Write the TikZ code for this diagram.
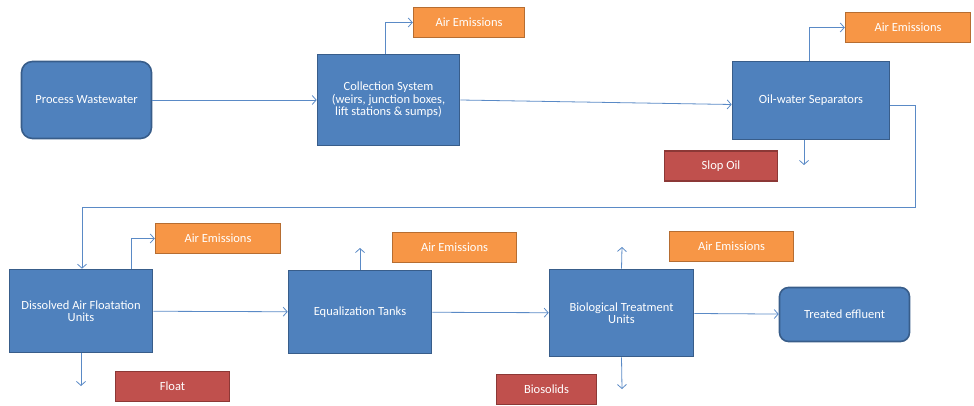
\documentclass[tikz,border=0pt]{standalone}
\usepackage{xcolor}
\usepackage{fontspec}
\setmainfont{Carlito}
\usepackage{tikz}
\usetikzlibrary{arrows.meta,positioning,calc}
\definecolor{UnitBlue}{HTML}{4F81BD}
\definecolor{UnitEdge}{HTML}{385D8A}
\definecolor{EmisFill}{HTML}{F79646}
\definecolor{EmisEdge}{HTML}{B66D31}
\definecolor{ResFill}{HTML}{C0504D}
\definecolor{ResEdge}{HTML}{8C3836}
\definecolor{FlowLine}{HTML}{5A8AC6}

\begin{document}
\begin{tikzpicture}[x=1pt,y=-1pt,>={Straight Barb[length=4pt,width=9pt]},
  font=\fontsize{12.5}{12.5}\selectfont]
\tikzstyle{unit}=[rectangle,draw=UnitEdge,line width=1.6pt,fill=UnitBlue,text=white,
                  align=center,inner sep=2pt]
\tikzstyle{endpt}=[unit,rounded corners=11pt]
\tikzstyle{emis}=[rectangle,draw=EmisEdge,line width=1.4pt,fill=EmisFill,text=white,
                  minimum width=124pt,minimum height=30pt]
\tikzstyle{resid}=[rectangle,draw=ResEdge,line width=1.4pt,fill=ResFill,text=white,
                   minimum height=30pt]
\tikzstyle{flow}=[->,draw=FlowLine,line width=0.8pt]
\useasboundingbox (0,0) rectangle (974,406);
% top row
\node[endpt,minimum width=130pt,minimum height=77pt] (pw) at (86.5,100) {Process Wastewater};
\node[unit,minimum width=142pt,minimum height=91pt] (cs) at (388.5,100)
  {Collection System\\(weirs, junction boxes,\\lift stations \& sumps)};
\node[unit,minimum width=157pt,minimum height=78pt] (ows) at (811,100.5) {Oil-water Separators};
\node[emis,minimum width=111pt] (ae1) at (469,22.5) {Air Emissions};
\node[emis,minimum width=125pt] (ae2) at (908,27.5) {Air Emissions};
\node[resid,minimum width=113pt] (slop) at (721,166) {Slop Oil};
% bottom row
\node[unit,minimum width=143pt,minimum height=83pt] (daf) at (81,311)
  {Dissolved Air Floatation\\Units};
\node[unit,minimum width=143pt,minimum height=83pt] (eq) at (360,312) {Equalization Tanks};
\node[unit,minimum width=144pt,minimum height=87pt] (bio) at (621.5,313)
  {Biological Treatment\\Units};
\node[endpt,rounded corners=9pt,minimum width=130pt,minimum height=54pt] (te) at (844.5,314.5)
  {Treated effluent};
\node[emis,minimum width=125pt] (ae3) at (218,238.5) {Air Emissions};
\node[emis,minimum width=124pt] (ae4) at (454.5,247.5) {Air Emissions};
\node[emis,minimum width=124pt] (ae5) at (731.5,246.5) {Air Emissions};
\node[resid,minimum width=114pt] (float) at (172.5,386.5) {Float};
\node[resid,minimum width=100pt] (bs) at (546.5,389.5) {Biosolids};
% free ends
\coordinate (slopend) at (804,165);
\coordinate (ret) at (915,207);
\coordinate (floatend) at (81,386);
\coordinate (equp) at (360,248);
\coordinate (bioup) at (622,247);
\coordinate (biodn) at (622,389);
% main flow
\draw[flow] (pw) -- (cs);
\draw[flow] (cs.east) -- ([yshift=-4pt]ows.west);
\draw[flow] ([yshift=-4.5pt]ows.east) -| (ret) -| ([xshift=1pt]daf.north);
\draw[flow] (daf) -- (eq);
\draw[flow] (eq) -- (bio);
\draw[flow] (bio) -- (te);
% side streams
\draw[flow] ([xshift=-3.5pt]cs.north) |- (ae1.west);
\draw[flow] ([xshift=-2pt]ows.north) |- (ae2.west);
\draw[flow] ([xshift=-7pt]ows.south) -- (slopend);
\draw[flow] ([xshift=50pt]daf.north) |- (ae3.west);
\draw[flow] (daf.south) -- (floatend);
\draw[flow] (eq.north) -- (equp);
\draw[flow] (bio.north) -- (bioup);
\draw[flow] (bio.south) -- (biodn);
\end{tikzpicture}
\end{document}
